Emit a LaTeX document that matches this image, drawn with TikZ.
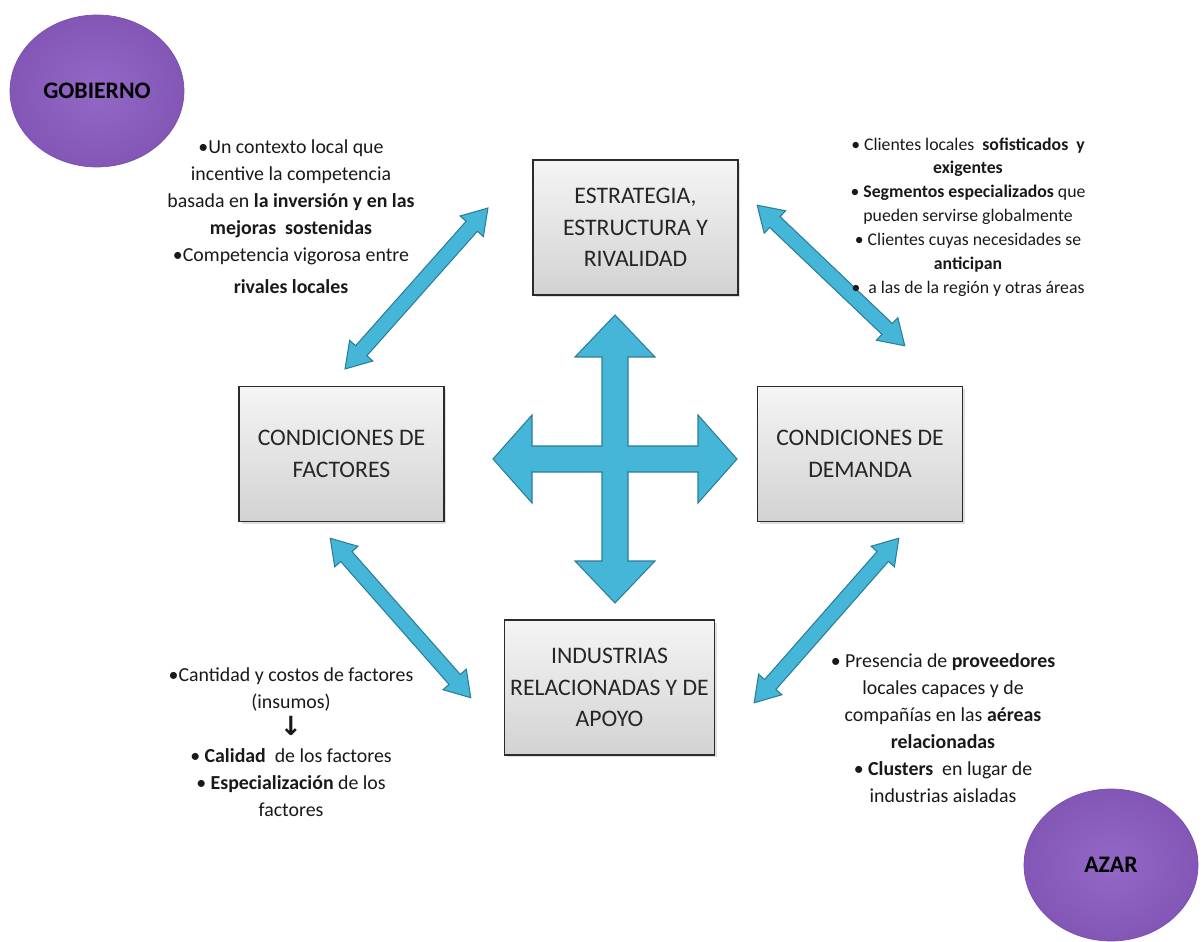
\documentclass[tikz,border=0pt]{standalone}
\usepackage{fontspec}
\setmainfont{Carlito}
\newfontfamily\arrowfont{DejaVu Sans}
\usetikzlibrary{arrows.meta, positioning, calc, shapes.geometric, shapes.arrows, shadows}
\definecolor{boxEdge}{HTML}{2B2B2B}
\definecolor{linkBlue}{HTML}{45B5D8}
\definecolor{linkEdge}{HTML}{2A7E98}
\definecolor{agentPurple}{HTML}{8A5BC0}
\definecolor{agentEdge}{HTML}{7A4DAE}

% fat two-headed arrow between two named points
\newcommand{\fatlink}[3]{%
  \path let \p1=(#2), \p2=(#3),
    \n1={atan2(\y2-\y1,\x2-\x1)}, \n2={veclen(\x2-\x1,\y2-\y1)} in
    node[link, rotate=\n1, minimum height=\n2] (#1) at ($(#2)!0.5!(#3)$) {};}

\begin{document}
\begin{tikzpicture}[
x=0.02cm, y=-0.02cm,
box/.style={
draw=boxEdge,
line width=0.8pt,
top color=gray!8,
bottom color=gray!35,
minimum width=4.1cm,
minimum height=2.7cm,
align=center,
text=black!85,
font=\fontsize{13.5}{18}\selectfont,
drop shadow={opacity=0.25, shadow xshift=0.05cm, shadow yshift=-0.05cm}
},
agent/.style={
ellipse,
draw=agentEdge,
inner color=agentPurple!92!white,
outer color=agentPurple!95!black,
minimum width=3.48cm,
minimum height=3.04cm,
font=\bfseries\fontsize{13.5}{15}\selectfont
},
note/.style={align=center, text=black!90, font=\fontsize{11.3}{15.3}\selectfont},
smallnote/.style={note, font=\fontsize{10.1}{13.6}\selectfont},
link/.style={
double arrow,
draw=linkEdge,
fill=linkBlue,
line width=0.6pt,
inner xsep=0pt,
inner ysep=0.14cm,
double arrow head extend=0.16cm,
double arrow tip angle=65
},
hub/.style={draw=linkEdge, fill=linkBlue, line width=0.6pt}
]
\useasboundingbox (0,0) rectangle (1204,942);

% the four determinants
\node[box] (estrategia) at (635.5,227.5) {ESTRATEGIA,\\ESTRUCTURA Y\\RIVALIDAD};
\node[box] (factores) at (341.5,454) {CONDICIONES DE\\FACTORES};
\node[box] (demanda) at (860,454) {CONDICIONES DE\\DEMANDA};
\node[box] (industrias) at (609.5,687.5) {INDUSTRIAS\\RELACIONADAS Y DE\\APOYO};

% outside influences
\node[agent] (gobierno) at (97,91) {GOBIERNO};
\node[agent] (azar) at (1111,865) {AZAR};

% ends of the diagonal links
\coordinate (tl-a) at (488,208);
\coordinate (tl-b) at (345,369);
\coordinate (tr-a) at (757,205);
\coordinate (tr-b) at (905,346);
\coordinate (bl-a) at (330,538);
\coordinate (bl-b) at (471,698);
\coordinate (br-a) at (899,538);
\coordinate (br-b) at (754,703);

\fatlink{linkTL}{tl-a}{tl-b}
\fatlink{linkTR}{tr-a}{tr-b}
\fatlink{linkBL}{bl-a}{bl-b}
\fatlink{linkBR}{br-a}{br-b}

% four-way arrow in the middle
\coordinate (hub) at (615,459);
\draw[hub, shift={(hub)}]
(0,-144) -- (40,-102) -- (13,-102) -- (13,-13) -- (83,-13) -- (83,-44)
-- (122,0) -- (83,44) -- (83,13) -- (13,13) -- (13,102) -- (40,102)
-- (0,144) -- (-40,102) -- (-13,102) -- (-13,13) -- (-83,13) -- (-83,44)
-- (-122,0) -- (-83,-44) -- (-83,-13) -- (-13,-13) -- (-13,-102) -- (-40,-102)
-- cycle;

% notes
\node[note] (rivalidad) at (291,217)
{•Un contexto local que\\
incentive la competencia\\
basada en \textbf{la inversión y en las}\\
\textbf{mejoras\ \ sostenidas}\\
•Competencia vigorosa entre\\[3pt]
\textbf{rivales locales}};

\node[smallnote] (clientes) at (968,217)
{• Clientes locales\ \ \textbf{sofisticados\ \ y}\\
\textbf{exigentes}\\
• \textbf{Segmentos especializados} que\\
pueden servirse globalmente\\
• Clientes cuyas necesidades se\\
\textbf{anticipan}\\
•\ \ a las de la región y otras áreas};

\node[note] (insumos) at (291,742)
{•Cantidad y costos de factores\\
(insumos)\\
{\arrowfont\bfseries\fontsize{15}{15.3}\selectfont ↓}\\
• \textbf{Calidad}\ \ de los factores\\
• \textbf{Especialización} de los\\
factores};

\node[note] (proveedores) at (943,728)
{• Presencia de \textbf{proveedores}\\
locales capaces y de\\
compañías en las \textbf{aéreas}\\
\textbf{relacionadas}\\
• \textbf{Clusters}\ \ en lugar de\\
industrias aisladas};

\end{tikzpicture}
\end{document}
